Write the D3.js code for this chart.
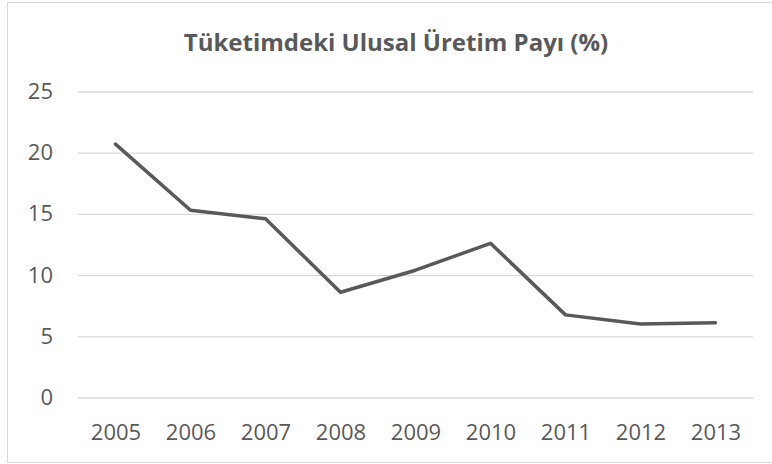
<!DOCTYPE html>
<html><head><meta charset="utf-8">
<script src="https://cdn.jsdelivr.net/npm/d3@7"></script>
<style>html,body{margin:0;padding:0;background:#fff;}</style>
</head><body>
<svg id="c" width="772" height="464"></svg>
<script>
const title = "Tüketimdeki Ulusal Üretim Payı (%)";
const years = ["2005","2006","2007","2008","2009","2010","2011","2012","2013"];
const values = [20.7, 15.3, 14.6, 8.6, 10.4, 12.6, 6.75, 6.0, 6.1];
const yTicks = [0, 5, 10, 15, 20, 25];

const svg = d3.select("#c");
const font = "'Open Sans', 'DejaVu Sans', sans-serif";
const textColor = "#595959";

svg.append("rect").attr("x", 7.5).attr("y", 2.5).attr("width", 800).attr("height", 460)
  .attr("fill", "#fff").attr("stroke", "#d9d9d9").attr("stroke-width", 1);

const x = d3.scalePoint().domain(years).range([78, 753]).padding(0.5);
const y = d3.scaleLinear().domain([0, 25]).range([397.5, 91.5]);

// gridlines
const yAxis = d3.axisLeft(y).tickValues(yTicks).tickSize(-(753 - 78)).tickPadding(25);
const gy = svg.append("g").attr("transform", "translate(78,0)").call(yAxis);
gy.select(".domain").remove();
gy.selectAll(".tick line").attr("stroke", "#d9d9d9").attr("stroke-width", 1.3);
gy.selectAll(".tick text").attr("fill", textColor).style("font-family", font).style("font-size", "22px");

const xAxis = d3.axisBottom(x).tickSize(0).tickPadding(27);
const gx = svg.append("g").attr("transform", "translate(0,397.5)").call(xAxis);
gx.select(".domain").remove();
gx.selectAll(".tick text").attr("fill", textColor).style("font-family", font).style("font-size", "22px");

const line = d3.line().x((d, i) => x(years[i])).y(d => y(d));
svg.append("path").datum(values).attr("d", line)
  .attr("fill", "none").attr("stroke", "#595959").attr("stroke-width", 3.5)
  .attr("stroke-linejoin", "round").attr("stroke-linecap", "round");

svg.append("text").attr("x", 396).attr("y", 51).attr("text-anchor", "middle")
  .attr("fill", textColor).style("font-family", font).style("font-weight", "bold")
  .style("font-size", "24px").text(title);
</script>
</body></html>
